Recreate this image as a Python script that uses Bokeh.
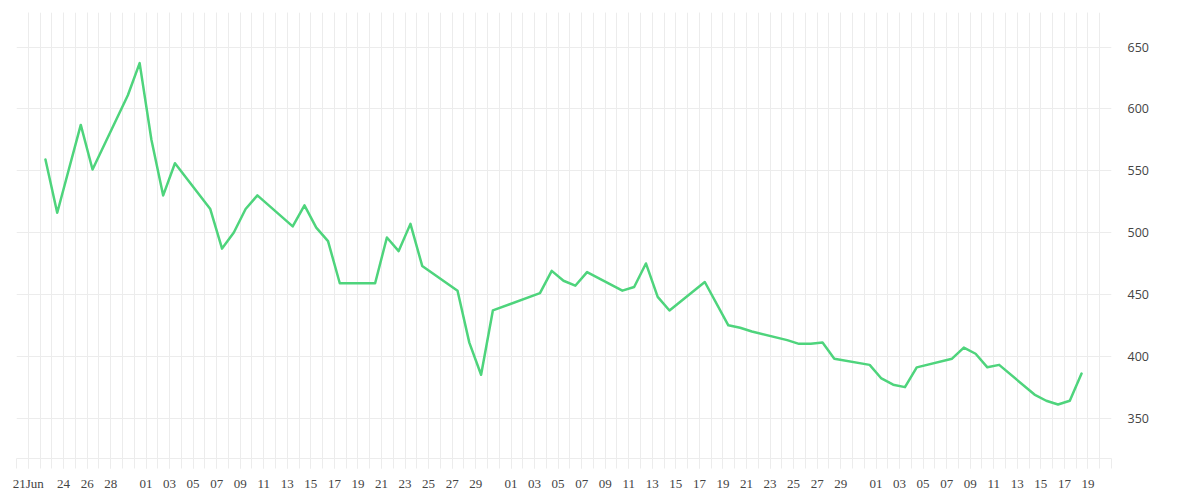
import pandas as pd
from bokeh.plotting import figure
from bokeh.models import FixedTicker, Range1d, ColumnDataSource, DatetimeTickFormatter
from bokeh.embed import file_html
from bokeh.resources import INLINE

# ---- data ----
dates = [
    "2024-06-22", "2024-06-23", "2024-06-25", "2024-06-26", "2024-06-29", "2024-06-30",
    "2024-07-01", "2024-07-02", "2024-07-03", "2024-07-06", "2024-07-07", "2024-07-08",
    "2024-07-09", "2024-07-10", "2024-07-13", "2024-07-14", "2024-07-15", "2024-07-16",
    "2024-07-17", "2024-07-20", "2024-07-21", "2024-07-22", "2024-07-23", "2024-07-24",
    "2024-07-27", "2024-07-28", "2024-07-29", "2024-07-30", "2024-08-03", "2024-08-04",
    "2024-08-05", "2024-08-06", "2024-08-07", "2024-08-10", "2024-08-11", "2024-08-12",
    "2024-08-13", "2024-08-14", "2024-08-17", "2024-08-19", "2024-08-20", "2024-08-21",
    "2024-08-24", "2024-08-25", "2024-08-26", "2024-08-27", "2024-08-28", "2024-08-31",
    "2024-09-01", "2024-09-02", "2024-09-03", "2024-09-04", "2024-09-07", "2024-09-08",
    "2024-09-09", "2024-09-10", "2024-09-11", "2024-09-14", "2024-09-15", "2024-09-16",
    "2024-09-17", "2024-09-18",
]
values = [
    559, 516, 587, 551, 611, 637,
    575, 530, 556, 519, 487, 500,
    519, 530, 505, 522, 504, 493,
    459, 459, 496, 485, 507, 473,
    453, 411, 385, 437, 451, 469,
    461, 457, 468, 453, 456, 475,
    448, 437, 460, 425, 423, 420,
    413, 410, 410, 411, 398, 393,
    382, 377, 375, 391, 398, 407,
    402, 391, 393, 369, 364, 361,
    364, 386,
]
sample_time = "11:00"  # time of day of each reading

tick_dates = [
    "2024-06-21", "2024-06-24", "2024-06-26", "2024-06-28",
    "2024-07-01", "2024-07-03", "2024-07-05", "2024-07-07", "2024-07-09", "2024-07-11",
    "2024-07-13", "2024-07-15", "2024-07-17", "2024-07-19", "2024-07-21", "2024-07-23",
    "2024-07-25", "2024-07-27", "2024-07-29",
    "2024-08-01", "2024-08-03", "2024-08-05", "2024-08-07", "2024-08-09", "2024-08-11",
    "2024-08-13", "2024-08-15", "2024-08-17", "2024-08-19", "2024-08-21", "2024-08-23",
    "2024-08-25", "2024-08-27", "2024-08-29",
    "2024-09-01", "2024-09-03", "2024-09-05", "2024-09-07", "2024-09-09", "2024-09-11",
    "2024-09-13", "2024-09-15", "2024-09-17", "2024-09-19",
]
tick_labels = [
    "21Jun", "24", "26", "28",
    "01", "03", "05", "07", "09", "11", "13", "15", "17", "19", "21", "23", "25", "27", "29",
    "01", "03", "05", "07", "09", "11", "13", "15", "17", "19", "21", "23", "25", "27", "29",
    "01", "03", "05", "07", "09", "11", "13", "15", "17", "19",
]
y_ticks = [350, 400, 450, 500, 550, 600, 650]

x_start, x_end = "2024-06-20", "2024-09-21"
y_start, y_end = 317.3, 677.9

# ---- build ----
def ms(ts):
    return float(pd.Timestamp(ts).value // 10**6)

xs = [pd.Timestamp(d + " " + sample_time) for d in dates]
source = ColumnDataSource(data=dict(x=xs, y=values))

grid_color = "#ececec"

p = figure(
    x_axis_type="datetime",
    y_axis_location="right",
    frame_width=1095,
    frame_height=446,
    min_border_left=16,
    min_border_right=70,
    min_border_top=12,
    min_border_bottom=30,
    output_backend="svg",
    toolbar_location=None,
    x_range=Range1d(pd.Timestamp(x_start), pd.Timestamp(x_end)),
    y_range=Range1d(y_start, y_end),
)
p.outline_line_color = None
p.background_fill_color = "white"
p.border_fill_color = "white"

p.line("x", "y", source=source, line_color="#4ed47c", line_width=2.5,
       line_join="round", line_cap="round")

day_ticks = [ms(d) for d in pd.date_range(x_start, x_end, freq="D")]
major_ms = [ms(d) for d in tick_dates]

xa = p.xaxis[0]
xa.ticker = FixedTicker(ticks=major_ms, minor_ticks=day_ticks)
xa.formatter = DatetimeTickFormatter(days="%d")
xa.major_label_overrides = {t: lab for t, lab in zip(major_ms, tick_labels)}
xa.axis_line_color = grid_color
xa.major_tick_line_color = grid_color
xa.minor_tick_line_color = grid_color
xa.major_tick_out = 10
xa.major_tick_in = 0
xa.minor_tick_out = 10
xa.minor_tick_in = 0
xa.major_label_standoff = 7
xa.major_label_text_font = "Liberation Serif"
xa.major_label_text_font_size = "13px"
xa.major_label_text_color = "#444444"

ya = p.yaxis[0]
ya.ticker = FixedTicker(ticks=y_ticks)
ya.axis_line_color = None
ya.major_tick_line_color = None
ya.minor_tick_line_color = None
ya.major_tick_out = 0
ya.major_label_standoff = 16
ya.major_label_text_font = "Open Sans"
ya.major_label_text_font_size = "12.5px"
ya.major_label_text_color = "#444444"

p.xgrid.grid_line_color = grid_color
p.xgrid.minor_grid_line_color = grid_color
p.ygrid.grid_line_color = grid_color

open("out.html", "w").write(file_html(p, INLINE))
